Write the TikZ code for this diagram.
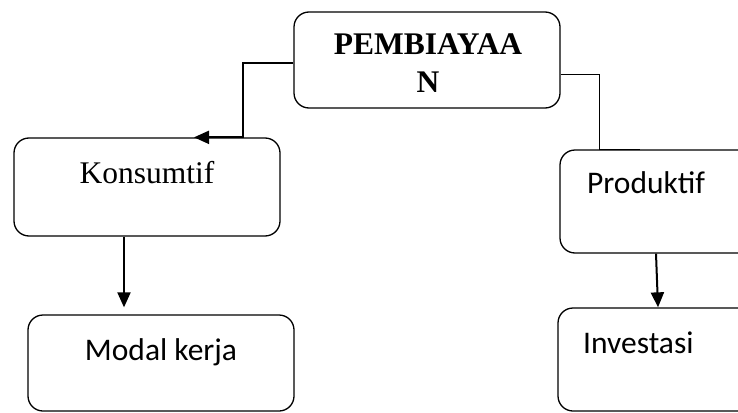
\documentclass[tikz,border=0pt]{standalone}
\usepackage{fontspec}
\setmainfont{Liberation Serif}
\newfontfamily\calibrifont{Carlito}
\usetikzlibrary{arrows.meta,calc}
\begin{document}
\begin{tikzpicture}[x=1pt,y=-1pt,
  box/.style={draw=black,line width=1.3pt,rounded corners=15pt,inner sep=0pt,
    minimum width=266pt},
  lbl/.style={inner sep=0pt,anchor=base,font=\fontsize{31.5}{37}\selectfont},
  lblsans/.style={inner sep=0pt,anchor=base west,
    font=\calibrifont\fontsize{31.5}{37}\selectfont},
  heavy/.style={line width=2pt},
  light/.style={line width=1pt},
  tip/.style={-{Triangle[length=15pt,width=13pt]}}]
\clip (0,0) rectangle (738,412);
\fill[white] (0,0) rectangle (738,412);

% boxes
\node[box,minimum height=96pt] (top) at (427,60) {};
\node[box,minimum height=98pt] (kons) at (147,187) {};
\node[box,minimum height=103pt] (prod) at (693,201.5) {};
\node[box,minimum height=96pt] (modal) at (161,363) {};
\node[box,minimum height=103pt] (inv) at (691,359.5) {};

% labels
\node[lbl,font=\bfseries\fontsize{31.5}{37}\selectfont] (t1) at (428,55) {PEMBIAYAA};
\node[lbl,font=\bfseries\fontsize{31.5}{37}\selectfont] (t2) at (428,92) {N};
\node[lbl] (tk) at (147,183) {Konsumtif};
\node[lbl,font=\calibrifont\fontsize{31.5}{37}\selectfont] (tm) at (161,360) {Modal kerja};
\node[lblsans] (tp) at (587,193) {Produktif};
\node[lblsans] (ti) at (583,353) {Investasi};

% connectors
\draw[heavy,tip] ($(top.west)+(0,3)$) -| ($(kons.north)+(96,0)$)
  -- ($(kons.north)+(47,0)$);
\draw[light] ($(top.east)+(0,14)$) -| ($(prod.north)+(-94,0)$)
  -- ($(prod.north)+(-53,0)$);
\draw[heavy,tip] ($(kons.south)+(-23,0)$) -- ($(modal.north)+(-37,-7)$);
\draw[heavy,tip] ($(prod.south)+(-37,0)$) -- ($(inv.north)+(-33,0)$);
\end{tikzpicture}
\end{document}
